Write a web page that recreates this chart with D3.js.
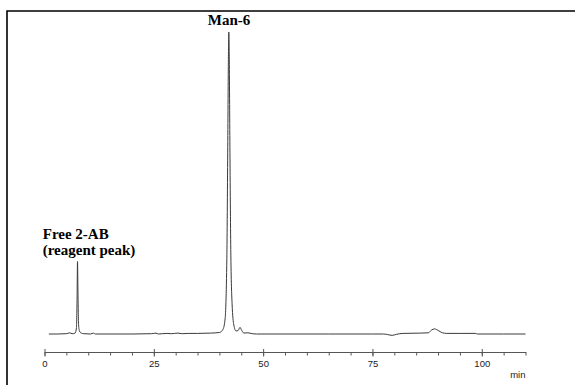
<!DOCTYPE html>
<meta charset="utf-8">
<script src="https://d3js.org/d3.v7.min.js"></script>
<style>
  body { margin: 0; background: #fff; }
</style>
<div id="my_dataviz"></div>
<script>

// retention time (min) and detector signal (relative, Man-6 peak = 100)
var times = [1.0, 3.0, 5.0, 5.8, 6.3, 7.0, 7.3, 7.45, 7.55, 7.65, 7.8, 8.0, 8.4, 9.0,
             10.5, 11.2, 11.6, 15, 20, 24.5, 25.5, 26.0, 28, 29, 30.5, 31.5, 33, 35, 38,
             40, 40.8, 41.3, 41.7, 41.9, 42.05, 42.15, 42.25, 42.4, 42.6, 42.9, 43.3, 43.8,
             44.3, 44.7, 45.1, 45.6, 46.5, 47.5, 48.5, 55, 65, 75, 77.5, 78.5, 79.5, 80.5,
             82, 86, 87.8, 88.5, 89.2, 90, 91, 92, 95, 98.5, 99, 105, 110]
var signal = [0, 0, 0.1, 0.4, 0.1, 0.3, 2, 12, 24, 14, 3, 1, 0.3, 0.1,
              0, 0.3, 0, 0, 0, 0.1, 0.3, 0, 0.2, 0.1, 0.3, 0.1, 0.2, 0.2, 0.3,
              0.5, 1.5, 5, 25, 60, 90, 100, 92, 62, 28, 10, 3, 1,
              1.2, 2.2, 1.2, 0.3, 0.4, 0.1, 0, 0, 0, 0, 0, -0.2, -0.45, -0.1,
              0.2, 0.3, 0.4, 1.3, 1.7, 1.2, 0.4, 0.2, 0.2, 0.2, 0, 0, 0]

// axis ticks
var majorTicks = [0, 25, 50, 75, 100]
var minorTicks = d3.range(0, 111, 5)

// peak labels
var peakLabels = [
  { time: 42.2, lines: ["Man-6"], anchor: "middle", dx: 0, top: 25 },
  { time: 7.6, lines: ["Free 2-AB", "(reagent peak)"], anchor: "start", dx: -35, top: 239 }
]

var width = 575
var height = 385

var svg = d3.select("#my_dataviz")
  .append("svg")
    .attr("width", width)
    .attr("height", height)

// frame (top and left)
svg.append("path")
  .attr("d", "M7,385V11H575")
  .attr("fill", "none")
  .attr("stroke", "#000")
  .attr("stroke-width", 1.6)

var x = d3.scaleLinear()
  .domain([0, 110])
  .range([44.5, 525.5])

var y = d3.scaleLinear()
  .domain([0, 100])
  .range([334, 32])

var data = times.map(function(t, i){ return { t: t, v: signal[i] } })

// chromatogram trace
svg.append("path")
  .datum(data)
  .attr("fill", "none")
  .attr("stroke", "#3a3a3a")
  .attr("stroke-width", 1)
  .attr("d", d3.line()
    .curve(d3.curveMonotoneX)
    .x(function(d){ return x(d.t) })
    .y(function(d){ return y(d.v) }))

// minor ticks
var axisY = 352
svg.append("g")
  .attr("transform", "translate(0," + axisY + ")")
  .call(d3.axisBottom(x).tickValues(minorTicks).tickSize(3.5).tickFormat(""))
  .call(function(g){ g.select(".domain").remove() })
  .selectAll("line").attr("stroke", "#555")

// main axis with labels
var gx = svg.append("g")
  .attr("transform", "translate(0," + axisY + ")")
  .call(d3.axisBottom(x).tickValues(majorTicks).tickSize(4.5).tickSizeOuter(0).tickFormat(d3.format("d")))
gx.select(".domain").attr("stroke", "#555")
gx.selectAll(".tick line").attr("stroke", "#555").attr("y1", -3)
gx.selectAll(".tick text")
  .attr("y", 8)
  .attr("fill", "#222")
  .style("font-family", "'Liberation Sans', Arial, sans-serif")
  .style("font-size", "9.5px")

svg.append("text")
  .attr("x", x(110))
  .attr("y", 378)
  .attr("text-anchor", "end")
  .attr("fill", "#222")
  .style("font-family", "'Liberation Sans', Arial, sans-serif")
  .style("font-size", "9.5px")
  .text("min")

// peak annotations
peakLabels.forEach(function(p){
  var txt = svg.append("text")
    .attr("text-anchor", p.anchor)
    .style("font-family", "'Liberation Serif', 'Times New Roman', serif")
    .style("font-weight", "bold")
    .style("font-size", "15px")
  p.lines.forEach(function(l, i){
    txt.append("tspan")
      .attr("x", x(p.time) + p.dx)
      .attr("y", p.top + i * 16)
      .text(l)
  })
})

</script>
